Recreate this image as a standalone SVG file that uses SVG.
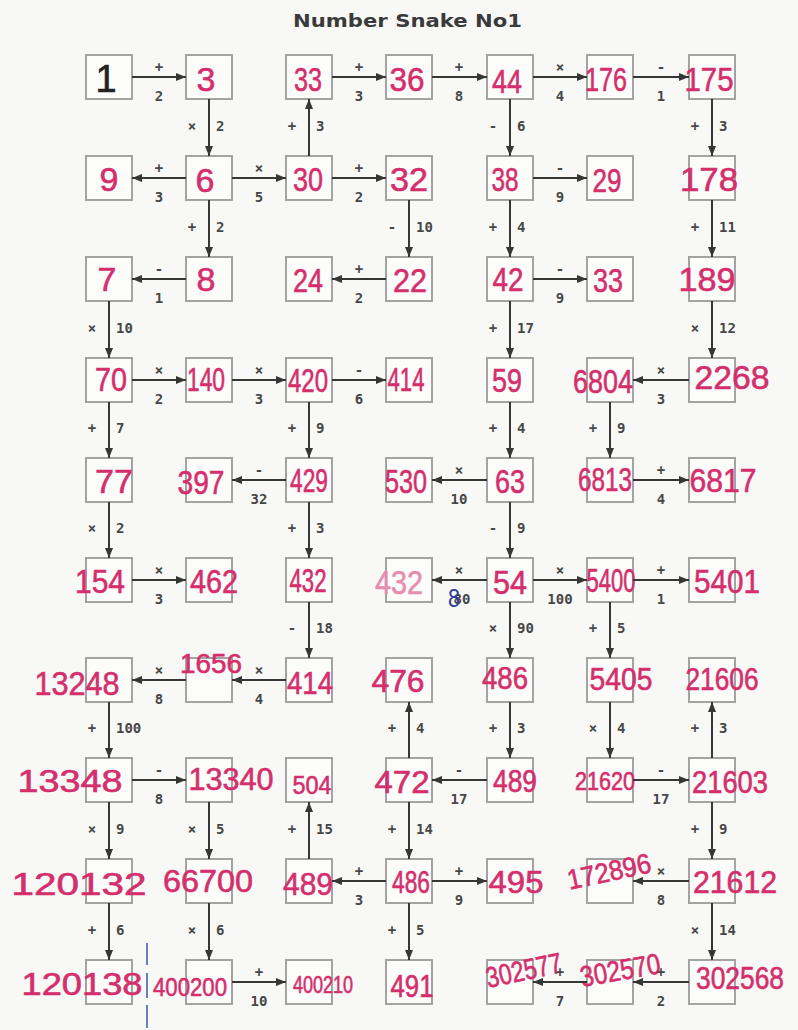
<svg xmlns="http://www.w3.org/2000/svg" width="798" height="1030" viewBox="0 0 798 1030">
<style>
.box{fill:#fcfcfb;stroke:#a3a3a3;stroke-width:2}
.n{font-family:"Liberation Sans",Arial,sans-serif;font-size:34px;fill:#d42f6c;stroke:#d42f6c;stroke-width:0.6;text-anchor:middle}
.s{font-size:31px}
.k{fill:#222;stroke:#222;font-size:38px}
.lt{fill:#e68db0;stroke:#e68db0}
.c line{stroke:#363636;stroke-width:2;marker-end:url(#ah)}
.l{font-family:"DejaVu Sans Mono",monospace;font-size:14px;font-weight:bold;fill:#474747}
.m{text-anchor:middle}
.title{font-family:"DejaVu Sans",sans-serif;font-size:17px;font-weight:bold;fill:#3a3a3a}
</style>
<defs>
<marker id="ah" viewBox="0 0 10 8" refX="10" refY="4" markerWidth="10" markerHeight="8" markerUnits="userSpaceOnUse" orient="auto"><path d="M0,0L10,4L0,8z" fill="#363636"/></marker>
</defs>
<rect x="0" y="0" width="798" height="1030" fill="#f8f8f6"/>
<text class="title" x="293" y="27" textLength="229" lengthAdjust="spacingAndGlyphs">Number Snake No1</text>

<g id="nodes">
<!-- row 0 -->
<g id="n-r0c0"><rect class="box" x="86" y="55" width="46" height="44"/><text class="n k" x="106" y="92">1</text></g>
<g id="n-r0c1"><rect class="box" x="186" y="55" width="46" height="44"/><text class="n" x="206" y="91">3</text></g>
<g id="n-r0c2"><rect class="box" x="286" y="55" width="46" height="44"/><text class="n" x="308" y="91" textLength="28" lengthAdjust="spacingAndGlyphs">33</text></g>
<g id="n-r0c3"><rect class="box" x="386" y="55" width="46" height="44"/><text class="n" x="407" y="91" textLength="35" lengthAdjust="spacingAndGlyphs">36</text></g>
<g id="n-r0c4"><rect class="box" x="487" y="55" width="46" height="44"/><text class="n" x="507" y="93" textLength="30" lengthAdjust="spacingAndGlyphs">44</text></g>
<g id="n-r0c5"><rect class="box" x="587" y="55" width="46" height="44"/><text class="n" x="606" y="91" textLength="42" lengthAdjust="spacingAndGlyphs">176</text></g>
<g id="n-r0c6"><rect class="box" x="689" y="55" width="46" height="44"/><text class="n" x="709" y="91" textLength="49" lengthAdjust="spacingAndGlyphs">175</text></g>
<!-- row 1 -->
<g id="n-r1c0"><rect class="box" x="86" y="156" width="46" height="44"/><text class="n" x="109" y="191">9</text></g>
<g id="n-r1c1"><rect class="box" x="186" y="156" width="46" height="44"/><text class="n" x="205" y="192">6</text></g>
<g id="n-r1c2"><rect class="box" x="286" y="156" width="46" height="44"/><text class="n" x="308" y="191" textLength="30" lengthAdjust="spacingAndGlyphs">30</text></g>
<g id="n-r1c3"><rect class="box" x="386" y="156" width="46" height="44"/><text class="n" x="409" y="191" textLength="38" lengthAdjust="spacingAndGlyphs">32</text></g>
<g id="n-r1c4"><rect class="box" x="487" y="156" width="46" height="44"/><text class="n" x="505" y="191" textLength="27" lengthAdjust="spacingAndGlyphs">38</text></g>
<g id="n-r1c5"><rect class="box" x="587" y="156" width="46" height="44"/><text class="n" x="607" y="192" textLength="29" lengthAdjust="spacingAndGlyphs">29</text></g>
<g id="n-r1c6"><rect class="box" x="689" y="156" width="46" height="44"/><text class="n" x="709" y="191" textLength="58" lengthAdjust="spacingAndGlyphs">178</text></g>
<!-- row 2 -->
<g id="n-r2c0"><rect class="box" x="86" y="257" width="46" height="44"/><text class="n" x="107" y="291">7</text></g>
<g id="n-r2c1"><rect class="box" x="186" y="257" width="46" height="44"/><text class="n" x="206" y="291">8</text></g>
<g id="n-r2c2"><rect class="box" x="286" y="257" width="46" height="44"/><text class="n" x="308" y="292" textLength="30" lengthAdjust="spacingAndGlyphs">24</text></g>
<g id="n-r2c3"><rect class="box" x="386" y="257" width="46" height="44"/><text class="n" x="410" y="292" textLength="34" lengthAdjust="spacingAndGlyphs">22</text></g>
<g id="n-r2c4"><rect class="box" x="487" y="257" width="46" height="44"/><text class="n" x="508" y="291" textLength="31" lengthAdjust="spacingAndGlyphs">42</text></g>
<g id="n-r2c5"><rect class="box" x="587" y="257" width="46" height="44"/><text class="n" x="608" y="292" textLength="30" lengthAdjust="spacingAndGlyphs">33</text></g>
<g id="n-r2c6"><rect class="box" x="689" y="257" width="46" height="44"/><text class="n" x="707" y="291" textLength="57" lengthAdjust="spacingAndGlyphs">189</text></g>
<!-- row 3 -->
<g id="n-r3c0"><rect class="box" x="86" y="358" width="46" height="44"/><text class="n" x="111" y="391" textLength="32" lengthAdjust="spacingAndGlyphs">70</text></g>
<g id="n-r3c1"><rect class="box" x="186" y="358" width="46" height="44"/><text class="n" x="206" y="391" textLength="38" lengthAdjust="spacingAndGlyphs">140</text></g>
<g id="n-r3c2"><rect class="box" x="286" y="358" width="46" height="44"/><text class="n" x="308" y="392" textLength="40" lengthAdjust="spacingAndGlyphs">420</text></g>
<g id="n-r3c3"><rect class="box" x="386" y="358" width="46" height="44"/><text class="n" x="406" y="391" textLength="37" lengthAdjust="spacingAndGlyphs">414</text></g>
<g id="n-r3c4"><rect class="box" x="487" y="358" width="46" height="44"/><text class="n" x="507" y="392" textLength="30" lengthAdjust="spacingAndGlyphs">59</text></g>
<g id="n-r3c5"><rect class="box" x="587" y="358" width="46" height="44"/><text class="n" x="603" y="393" textLength="60" lengthAdjust="spacingAndGlyphs">6804</text></g>
<g id="n-r3c6"><rect class="box" x="689" y="358" width="46" height="44"/><text class="n" x="732" y="389" textLength="75" lengthAdjust="spacingAndGlyphs">2268</text></g>
<!-- row 4 -->
<g id="n-r4c0"><rect class="box" x="86" y="458" width="46" height="44"/><text class="n" x="114" y="493" textLength="38" lengthAdjust="spacingAndGlyphs">77</text></g>
<g id="n-r4c1"><rect class="box" x="186" y="458" width="46" height="44"/><text class="n" x="201" y="494" textLength="47" lengthAdjust="spacingAndGlyphs">397</text></g>
<g id="n-r4c2"><rect class="box" x="286" y="458" width="46" height="44"/><text class="n" x="309" y="492" textLength="38" lengthAdjust="spacingAndGlyphs">429</text></g>
<g id="n-r4c3"><rect class="box" x="386" y="458" width="46" height="44"/><text class="n" x="406" y="493" textLength="42" lengthAdjust="spacingAndGlyphs">530</text></g>
<g id="n-r4c4"><rect class="box" x="487" y="458" width="46" height="44"/><text class="n" x="510" y="493" textLength="30" lengthAdjust="spacingAndGlyphs">63</text></g>
<g id="n-r4c5"><rect class="box" x="587" y="458" width="46" height="44"/><text class="n" x="605" y="491" textLength="54" lengthAdjust="spacingAndGlyphs">6813</text></g>
<g id="n-r4c6"><rect class="box" x="689" y="458" width="46" height="44"/><text class="n" x="723" y="492" textLength="67" lengthAdjust="spacingAndGlyphs">6817</text></g>
<!-- row 5 -->
<g id="n-r5c0"><rect class="box" x="86" y="558" width="46" height="44"/><text class="n" x="100" y="593" textLength="50" lengthAdjust="spacingAndGlyphs">154</text></g>
<g id="n-r5c1"><rect class="box" x="186" y="558" width="46" height="44"/><text class="n" x="214" y="593" textLength="48" lengthAdjust="spacingAndGlyphs">462</text></g>
<g id="n-r5c2"><rect class="box" x="286" y="558" width="46" height="44"/><text class="n" x="308" y="592" textLength="37" lengthAdjust="spacingAndGlyphs">432</text></g>
<g id="n-r5c3"><rect class="box" x="386" y="558" width="46" height="44"/><text class="n lt" x="399" y="594" textLength="48" lengthAdjust="spacingAndGlyphs">432</text></g>
<g id="n-r5c4"><rect class="box" x="487" y="558" width="46" height="44"/><text class="n" x="510" y="594" textLength="34" lengthAdjust="spacingAndGlyphs">54</text></g>
<g id="n-r5c5"><rect class="box" x="587" y="558" width="46" height="44"/><text class="n" x="611" y="592" textLength="49" lengthAdjust="spacingAndGlyphs">5400</text></g>
<g id="n-r5c6"><rect class="box" x="689" y="558" width="46" height="44"/><text class="n" x="727" y="593" textLength="66" lengthAdjust="spacingAndGlyphs">5401</text></g>
<!-- row 6 -->
<g id="n-r6c0"><rect class="box" x="86" y="658" width="46" height="44"/><text class="n" x="77" y="695" textLength="85" lengthAdjust="spacingAndGlyphs">13248</text></g>
<g id="n-r6c1"><rect class="box" x="186" y="658" width="46" height="44"/><text class="n" style="font-size:27px" x="211" y="673" textLength="62" lengthAdjust="spacingAndGlyphs">1656</text></g>
<g id="n-r6c2"><rect class="box" x="286" y="658" width="46" height="44"/><text class="n s" x="310" y="694" textLength="46" lengthAdjust="spacingAndGlyphs">414</text></g>
<g id="n-r6c3"><rect class="box" x="386" y="658" width="46" height="44"/><text class="n s" x="398" y="692" textLength="53" lengthAdjust="spacingAndGlyphs">476</text></g>
<g id="n-r6c4"><rect class="box" x="487" y="658" width="46" height="44"/><text class="n s" x="505" y="689" textLength="46" lengthAdjust="spacingAndGlyphs">486</text></g>
<g id="n-r6c5"><rect class="box" x="587" y="658" width="46" height="44"/><text class="n s" x="621" y="690" textLength="63" lengthAdjust="spacingAndGlyphs">5405</text></g>
<g id="n-r6c6"><rect class="box" x="689" y="658" width="46" height="44"/><text class="n s" x="722" y="690" textLength="73" lengthAdjust="spacingAndGlyphs">21606</text></g>
<!-- row 7 -->
<g id="n-r7c0"><rect class="box" x="86" y="758" width="46" height="44"/><text class="n s" x="70" y="792" textLength="105" lengthAdjust="spacingAndGlyphs">13348</text></g>
<g id="n-r7c1"><rect class="box" x="186" y="758" width="46" height="44"/><text class="n s" x="231" y="790" textLength="85" lengthAdjust="spacingAndGlyphs">13340</text></g>
<g id="n-r7c2"><rect class="box" x="286" y="758" width="46" height="44"/><text class="n" style="font-size:26px" x="312" y="794" textLength="39" lengthAdjust="spacingAndGlyphs">504</text></g>
<g id="n-r7c3"><rect class="box" x="386" y="758" width="46" height="44"/><text class="n s" x="402" y="793" textLength="55" lengthAdjust="spacingAndGlyphs">472</text></g>
<g id="n-r7c4"><rect class="box" x="487" y="758" width="46" height="44"/><text class="n s" x="515" y="792" textLength="44" lengthAdjust="spacingAndGlyphs">489</text></g>
<g id="n-r7c5"><rect class="box" x="587" y="758" width="46" height="44"/><text class="n" style="font-size:25px" x="605" y="790" textLength="60" lengthAdjust="spacingAndGlyphs">21620</text></g>
<g id="n-r7c6"><rect class="box" x="689" y="758" width="46" height="44"/><text class="n s" x="730" y="793" textLength="76" lengthAdjust="spacingAndGlyphs">21603</text></g>
<!-- row 8 -->
<g id="n-r8c0"><rect class="box" x="86" y="859" width="46" height="44"/><text class="n s" x="79" y="895" textLength="135" lengthAdjust="spacingAndGlyphs">120132</text></g>
<g id="n-r8c1"><rect class="box" x="186" y="859" width="46" height="44"/><text class="n s" x="208" y="892" textLength="90" lengthAdjust="spacingAndGlyphs">66700</text></g>
<g id="n-r8c2"><rect class="box" x="286" y="859" width="46" height="44"/><text class="n s" x="308" y="895" textLength="50" lengthAdjust="spacingAndGlyphs">489</text></g>
<g id="n-r8c3"><rect class="box" x="386" y="859" width="46" height="44"/><text class="n s" x="411" y="893" textLength="38" lengthAdjust="spacingAndGlyphs">486</text></g>
<g id="n-r8c4"><rect class="box" x="487" y="859" width="46" height="44"/><text class="n s" x="516" y="893" textLength="55" lengthAdjust="spacingAndGlyphs">495</text></g>
<g id="n-r8c5"><rect class="box" x="587" y="859" width="46" height="44"/><text class="n" style="font-size:28px" x="611" y="881" transform="rotate(-12 611 881)" textLength="85" lengthAdjust="spacingAndGlyphs">172896</text></g>
<g id="n-r8c6"><rect class="box" x="689" y="859" width="46" height="44"/><text class="n s" x="735" y="893" textLength="84" lengthAdjust="spacingAndGlyphs">21612</text></g>
<!-- row 9 -->
<g id="n-r9c0"><rect class="box" x="86" y="960" width="46" height="44"/><text class="n s" x="82" y="995" textLength="121" lengthAdjust="spacingAndGlyphs">120138</text></g>
<g id="n-r9c1"><rect class="box" x="186" y="960" width="46" height="44"/><text class="n" style="font-size:26px" x="190" y="996" textLength="74" lengthAdjust="spacingAndGlyphs">400200</text></g>
<g id="n-r9c2"><rect class="box" x="286" y="960" width="46" height="44"/><text class="n" style="font-size:23px" x="323" y="993" textLength="60" lengthAdjust="spacingAndGlyphs">400210</text></g>
<g id="n-r9c3"><rect class="box" x="386" y="960" width="46" height="44"/><text class="n s" x="412" y="997" textLength="43" lengthAdjust="spacingAndGlyphs">491</text></g>
<g id="n-r9c4"><rect class="box" x="487" y="960" width="46" height="44"/><text class="n" style="font-size:29px" x="526" y="980" transform="rotate(-12 526 980)" textLength="77" lengthAdjust="spacingAndGlyphs">302577</text></g>
<g id="n-r9c5"><rect class="box" x="587" y="960" width="46" height="44"/><text class="n" style="font-size:29px" x="622" y="980" transform="rotate(-10 622 980)" textLength="81" lengthAdjust="spacingAndGlyphs">302570</text></g>
<g id="n-r9c6"><rect class="box" x="689" y="960" width="46" height="44"/><text class="n s" x="740" y="989" textLength="88" lengthAdjust="spacingAndGlyphs">302568</text></g>
</g>

<g id="connectors" class="c">
<!-- horizontal -->
<line x1="132" y1="77" x2="186" y2="77"/><text class="l m" x="159" y="72">+</text><text class="l m" x="159" y="101">2</text>
<line x1="332" y1="77" x2="386" y2="77"/><text class="l m" x="359" y="72">+</text><text class="l m" x="359" y="101">3</text>
<line x1="432" y1="77" x2="487" y2="77"/><text class="l m" x="459" y="72">+</text><text class="l m" x="459" y="101">8</text>
<line x1="533" y1="77" x2="587" y2="77"/><text class="l m" x="560" y="72">×</text><text class="l m" x="560" y="101">4</text>
<line x1="633" y1="77" x2="689" y2="77"/><text class="l m" x="661" y="72">-</text><text class="l m" x="661" y="101">1</text>

<line x1="186" y1="178" x2="132" y2="178"/><text class="l m" x="159" y="173">+</text><text class="l m" x="159" y="202">3</text>
<line x1="232" y1="178" x2="286" y2="178"/><text class="l m" x="259" y="173">×</text><text class="l m" x="259" y="202">5</text>
<line x1="332" y1="178" x2="386" y2="178"/><text class="l m" x="359" y="173">+</text><text class="l m" x="359" y="202">2</text>
<line x1="533" y1="178" x2="587" y2="178"/><text class="l m" x="560" y="173">-</text><text class="l m" x="560" y="202">9</text>

<line x1="186" y1="279" x2="132" y2="279"/><text class="l m" x="159" y="274">-</text><text class="l m" x="159" y="303">1</text>
<line x1="386" y1="279" x2="332" y2="279"/><text class="l m" x="359" y="274">+</text><text class="l m" x="359" y="303">2</text>
<line x1="533" y1="279" x2="587" y2="279"/><text class="l m" x="560" y="274">-</text><text class="l m" x="560" y="303">9</text>

<line x1="132" y1="380" x2="186" y2="380"/><text class="l m" x="159" y="375">×</text><text class="l m" x="159" y="404">2</text>
<line x1="232" y1="380" x2="286" y2="380"/><text class="l m" x="259" y="375">×</text><text class="l m" x="259" y="404">3</text>
<line x1="332" y1="380" x2="386" y2="380"/><text class="l m" x="359" y="375">-</text><text class="l m" x="359" y="404">6</text>
<line x1="689" y1="380" x2="633" y2="380"/><text class="l m" x="661" y="375">×</text><text class="l m" x="661" y="404">3</text>

<line x1="286" y1="480" x2="232" y2="480"/><text class="l m" x="259" y="475">-</text><text class="l m" x="259" y="504">32</text>
<line x1="487" y1="480" x2="432" y2="480"/><text class="l m" x="459" y="475">×</text><text class="l m" x="459" y="504">10</text>
<line x1="633" y1="480" x2="689" y2="480"/><text class="l m" x="661" y="475">+</text><text class="l m" x="661" y="504">4</text>

<line x1="132" y1="580" x2="186" y2="580"/><text class="l m" x="159" y="575">×</text><text class="l m" x="159" y="604">3</text>
<line x1="487" y1="580" x2="432" y2="580"/><text class="l m" x="459" y="575">×</text><text class="l m" x="462" y="604">80</text>
<line x1="533" y1="580" x2="587" y2="580"/><text class="l m" x="560" y="575">×</text><text class="l m" x="560" y="604">100</text>
<line x1="633" y1="580" x2="689" y2="580"/><text class="l m" x="661" y="575">+</text><text class="l m" x="661" y="604">1</text>

<line x1="286" y1="680" x2="232" y2="680"/><text class="l m" x="259" y="675">×</text><text class="l m" x="259" y="704">4</text>
<line x1="186" y1="680" x2="132" y2="680"/><text class="l m" x="159" y="675">×</text><text class="l m" x="159" y="704">8</text>

<line x1="132" y1="780" x2="186" y2="780"/><text class="l m" x="159" y="775">-</text><text class="l m" x="159" y="804">8</text>
<line x1="487" y1="780" x2="432" y2="780"/><text class="l m" x="459" y="775">-</text><text class="l m" x="459" y="804">17</text>
<line x1="633" y1="780" x2="689" y2="780"/><text class="l m" x="661" y="775">-</text><text class="l m" x="661" y="804">17</text>

<line x1="386" y1="881" x2="332" y2="881"/><text class="l m" x="359" y="876">+</text><text class="l m" x="359" y="905">3</text>
<line x1="432" y1="881" x2="487" y2="881"/><text class="l m" x="459" y="876">+</text><text class="l m" x="459" y="905">9</text>
<line x1="689" y1="881" x2="633" y2="881"/><text class="l m" x="661" y="876">×</text><text class="l m" x="661" y="905">8</text>

<line x1="232" y1="982" x2="286" y2="982"/><text class="l m" x="259" y="977">+</text><text class="l m" x="259" y="1006">10</text>
<line x1="689" y1="982" x2="633" y2="982"/><text class="l m" x="661" y="977">+</text><text class="l m" x="661" y="1006">2</text>
<line x1="587" y1="982" x2="533" y2="982"/><text class="l m" x="560" y="977">+</text><text class="l m" x="560" y="1006">7</text>

<!-- vertical -->
<line x1="209" y1="99" x2="209" y2="156"/><text class="l m" x="192" y="131">×</text><text class="l" x="216" y="131">2</text>
<line x1="309" y1="156" x2="309" y2="99"/><text class="l m" x="292" y="131">+</text><text class="l" x="316" y="131">3</text>
<line x1="510" y1="99" x2="510" y2="156"/><text class="l m" x="493" y="131">-</text><text class="l" x="517" y="131">6</text>
<line x1="712" y1="99" x2="712" y2="156"/><text class="l m" x="695" y="131">+</text><text class="l" x="719" y="131">3</text>

<line x1="209" y1="200" x2="209" y2="257"/><text class="l m" x="192" y="232">+</text><text class="l" x="216" y="232">2</text>
<line x1="409" y1="200" x2="409" y2="257"/><text class="l m" x="392" y="232">-</text><text class="l" x="416" y="232">10</text>
<line x1="510" y1="200" x2="510" y2="257"/><text class="l m" x="493" y="232">+</text><text class="l" x="517" y="232">4</text>
<line x1="712" y1="200" x2="712" y2="257"/><text class="l m" x="695" y="232">+</text><text class="l" x="719" y="232">11</text>

<line x1="109" y1="301" x2="109" y2="358"/><text class="l m" x="92" y="333">×</text><text class="l" x="116" y="333">10</text>
<line x1="510" y1="301" x2="510" y2="358"/><text class="l m" x="493" y="333">+</text><text class="l" x="517" y="333">17</text>
<line x1="712" y1="301" x2="712" y2="358"/><text class="l m" x="695" y="333">×</text><text class="l" x="719" y="333">12</text>

<line x1="109" y1="402" x2="109" y2="458"/><text class="l m" x="92" y="433">+</text><text class="l" x="116" y="433">7</text>
<line x1="309" y1="402" x2="309" y2="458"/><text class="l m" x="292" y="433">+</text><text class="l" x="316" y="433">9</text>
<line x1="510" y1="402" x2="510" y2="458"/><text class="l m" x="493" y="433">+</text><text class="l" x="517" y="433">4</text>
<line x1="610" y1="402" x2="610" y2="458"/><text class="l m" x="593" y="433">+</text><text class="l" x="617" y="433">9</text>

<line x1="109" y1="502" x2="109" y2="558"/><text class="l m" x="92" y="533">×</text><text class="l" x="116" y="533">2</text>
<line x1="309" y1="502" x2="309" y2="558"/><text class="l m" x="292" y="533">+</text><text class="l" x="316" y="533">3</text>
<line x1="510" y1="502" x2="510" y2="558"/><text class="l m" x="493" y="533">-</text><text class="l" x="517" y="533">9</text>

<line x1="309" y1="602" x2="309" y2="658"/><text class="l m" x="292" y="633">-</text><text class="l" x="316" y="633">18</text>
<line x1="510" y1="602" x2="510" y2="658"/><text class="l m" x="493" y="633">×</text><text class="l" x="517" y="633">90</text>
<line x1="610" y1="602" x2="610" y2="658"/><text class="l m" x="593" y="633">+</text><text class="l" x="617" y="633">5</text>

<line x1="109" y1="702" x2="109" y2="758"/><text class="l m" x="92" y="733">+</text><text class="l" x="116" y="733">100</text>
<line x1="409" y1="758" x2="409" y2="702"/><text class="l m" x="392" y="733">+</text><text class="l" x="416" y="733">4</text>
<line x1="510" y1="702" x2="510" y2="758"/><text class="l m" x="493" y="733">+</text><text class="l" x="517" y="733">3</text>
<line x1="610" y1="702" x2="610" y2="758"/><text class="l m" x="593" y="733">×</text><text class="l" x="617" y="733">4</text>
<line x1="712" y1="758" x2="712" y2="702"/><text class="l m" x="695" y="733">+</text><text class="l" x="719" y="733">3</text>

<line x1="109" y1="802" x2="109" y2="859"/><text class="l m" x="92" y="834">×</text><text class="l" x="116" y="834">9</text>
<line x1="209" y1="802" x2="209" y2="859"/><text class="l m" x="192" y="834">×</text><text class="l" x="216" y="834">5</text>
<line x1="309" y1="859" x2="309" y2="802"/><text class="l m" x="292" y="834">+</text><text class="l" x="316" y="834">15</text>
<line x1="409" y1="802" x2="409" y2="859"/><text class="l m" x="392" y="834">+</text><text class="l" x="416" y="834">14</text>
<line x1="712" y1="802" x2="712" y2="859"/><text class="l m" x="695" y="834">+</text><text class="l" x="719" y="834">9</text>

<line x1="109" y1="903" x2="109" y2="960"/><text class="l m" x="92" y="935">+</text><text class="l" x="116" y="935">6</text>
<line x1="209" y1="903" x2="209" y2="960"/><text class="l m" x="192" y="935">×</text><text class="l" x="216" y="935">6</text>
<line x1="409" y1="903" x2="409" y2="960"/><text class="l m" x="392" y="935">+</text><text class="l" x="416" y="935">5</text>
<line x1="712" y1="903" x2="712" y2="960"/><text class="l m" x="695" y="935">×</text><text class="l" x="719" y="935">14</text>
</g>

<g id="pen-marks">
<text x="454" y="607" style="font-family:'Liberation Sans',sans-serif;font-size:26px;fill:#2c3f9e;text-anchor:middle" textLength="12" lengthAdjust="spacingAndGlyphs">8</text>
<path d="M147,943V965M147,973V998M147,1005V1028" stroke="#3a55b0" stroke-width="1.5" fill="none"/>
</g>
</svg>
